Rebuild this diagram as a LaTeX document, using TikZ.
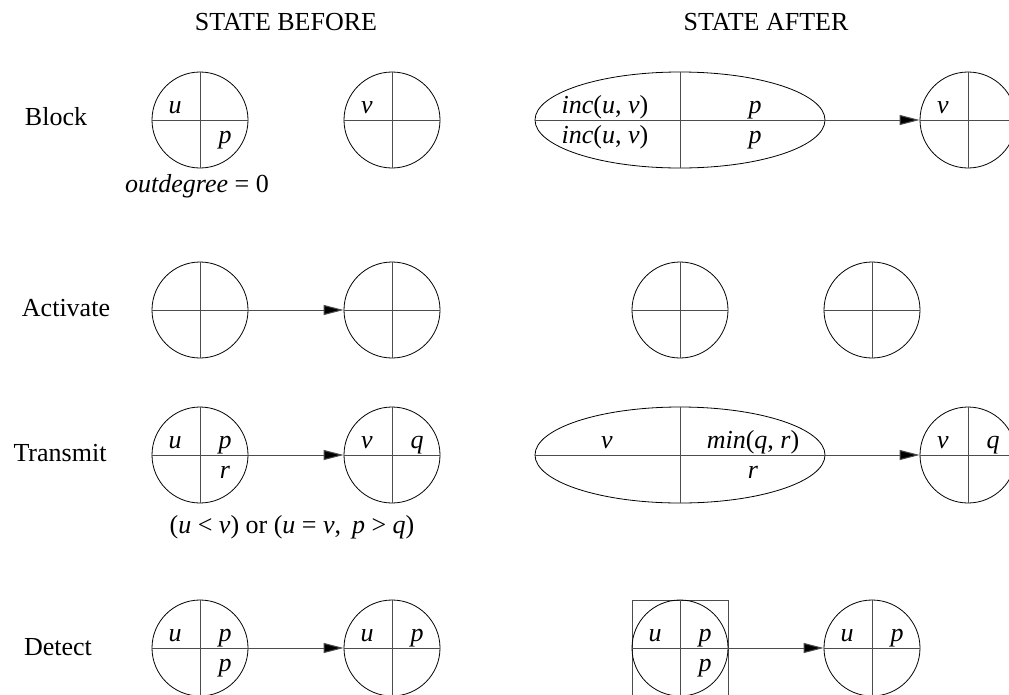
\documentclass[tikz,border=0pt]{standalone}
\usepackage{fontspec}
\setmainfont{Liberation Serif}
\usetikzlibrary{arrows.meta,shapes.geometric}
\newcommand\qcross[1]{\draw[crossline] (#1.north) -- (#1.south) (#1.west) -- (#1.east);}
\newcommand\mi[1]{\textit{#1}}
\begin{document}
\begin{tikzpicture}[x=1pt,y=-1pt,
  circ/.style={circle,draw,line width=0.8pt,minimum size=96pt,inner sep=0pt},
  ell/.style={ellipse,draw,line width=0.8pt,minimum width=290pt,minimum height=96pt,inner sep=0pt},
  sq/.style={rectangle,draw=black!70,line width=1pt,minimum size=96pt,inner sep=0pt},
  crossline/.style={line width=1pt,draw=black!70},
  lab/.style={font=\fontsize{26}{30}\selectfont,inner sep=0pt,anchor=base},
  arr/.style={line width=1pt,draw=black!70,-{Triangle[length=20pt,width=10pt,fill=black]}}
]
\useasboundingbox (0,0) rectangle (1009,694);
\clip (0,0) rectangle (1009,694);

% headers
\node[lab] (hb) at (286,30) {STATE BEFORE};
\node[lab] (ha) at (766,30) {STATE AFTER};

% row labels
\node[lab] (lblock) at (56,125) {Block};
\node[lab] (lact) at (66,316) {Activate};
\node[lab] (ltr) at (60,461) {Transmit};
\node[lab] (ldet) at (58,655) {Detect};

% ---------- Block ----------
\node[circ] (bA) at (200,120) {};
\qcross{bA}
\node[lab] (bAu) at ([shift={(-25,-7)}]bA.center) {\mi{u}};
\node[lab] (bAp) at ([shift={(25,23)}]bA.center) {\mi{p}};
\node[circ] (bB) at (392,120) {};
\qcross{bB}
\node[lab] (bBv) at ([shift={(-25,-7)}]bB.center) {\mi{v}};
\node[lab] (bcond) at (197,192) {\mi{outdegree} = 0};

\node[ell] (bE) at (680,120) {};
\qcross{bE}
\node[lab] (bE1) at ([shift={(-75,-7)}]bE.center) {\mi{inc}(\mi{u}, \mi{v})};
\node[lab] (bE2) at ([shift={(-75,23)}]bE.center) {\mi{inc}(\mi{u}, \mi{v})};
\node[lab] (bE3) at ([shift={(75,-7)}]bE.center) {\mi{p}};
\node[lab] (bE4) at ([shift={(75,23)}]bE.center) {\mi{p}};
\node[circ] (bC) at (968,120) {};
\qcross{bC}
\node[lab] (bCv) at ([shift={(-25,-7)}]bC.center) {\mi{v}};
\draw[arr] (bE.east) -- (bC.west);

% ---------- Activate ----------
\node[circ] (aA) at (200,310) {};
\qcross{aA}
\node[circ] (aB) at (392,310) {};
\qcross{aB}
\draw[arr] (aA.east) -- (aB.west);
\node[circ] (aC) at (680,310) {};
\qcross{aC}
\node[circ] (aD) at (872,310) {};
\qcross{aD}

% ---------- Transmit ----------
\node[circ] (tA) at (200,455) {};
\qcross{tA}
\node[lab] (tAu) at ([shift={(-25,-7)}]tA.center) {\mi{u}};
\node[lab] (tAp) at ([shift={(25,-7)}]tA.center) {\mi{p}};
\node[lab] (tAr) at ([shift={(25,23)}]tA.center) {\mi{r}};
\node[circ] (tB) at (392,455) {};
\qcross{tB}
\node[lab] (tBv) at ([shift={(-25,-7)}]tB.center) {\mi{v}};
\node[lab] (tBq) at ([shift={(25,-7)}]tB.center) {\mi{q}};
\draw[arr] (tA.east) -- (tB.west);
\node[lab] (tcond) at (292,533) {(\mi{u} < \mi{v}) or (\mi{u} = \mi{v},\, \mi{p} > \mi{q})};

\node[ell] (tE) at (680,455) {};
\qcross{tE}
\node[lab] (tE1) at ([shift={(-73,-7)}]tE.center) {\mi{v}};
\node[lab] (tE2) at ([shift={(73,-7)}]tE.center) {\mi{min}(\mi{q}, \mi{r})};
\node[lab] (tE3) at ([shift={(73,23)}]tE.center) {\mi{r}};
\node[circ] (tC) at (968,455) {};
\qcross{tC}
\node[lab] (tCv) at ([shift={(-25,-7)}]tC.center) {\mi{v}};
\node[lab] (tCq) at ([shift={(25,-7)}]tC.center) {\mi{q}};
\draw[arr] (tE.east) -- (tC.west);

% ---------- Detect ----------
\node[circ] (dA) at (200,648) {};
\qcross{dA}
\node[lab] (dAu) at ([shift={(-25,-7)}]dA.center) {\mi{u}};
\node[lab] (dAp) at ([shift={(25,-7)}]dA.center) {\mi{p}};
\node[lab] (dAp2) at ([shift={(25,23)}]dA.center) {\mi{p}};
\node[circ] (dB) at (392,648) {};
\qcross{dB}
\node[lab] (dBu) at ([shift={(-25,-7)}]dB.center) {\mi{u}};
\node[lab] (dBp) at ([shift={(25,-7)}]dB.center) {\mi{p}};
\draw[arr] (dA.east) -- (dB.west);

\node[sq] (dS) at (680,648) {};
\node[circ] (dSc) at (dS.center) {};
\qcross{dS}
\node[lab] (dSu) at ([shift={(-25,-7)}]dS.center) {\mi{u}};
\node[lab] (dSp) at ([shift={(25,-7)}]dS.center) {\mi{p}};
\node[lab] (dSp2) at ([shift={(25,23)}]dS.center) {\mi{p}};
\node[circ] (dC) at (872,648) {};
\qcross{dC}
\node[lab] (dCu) at ([shift={(-25,-7)}]dC.center) {\mi{u}};
\node[lab] (dCp) at ([shift={(25,-7)}]dC.center) {\mi{p}};
\draw[arr] (dS.east) -- (dC.west);
\end{tikzpicture}
\end{document}
